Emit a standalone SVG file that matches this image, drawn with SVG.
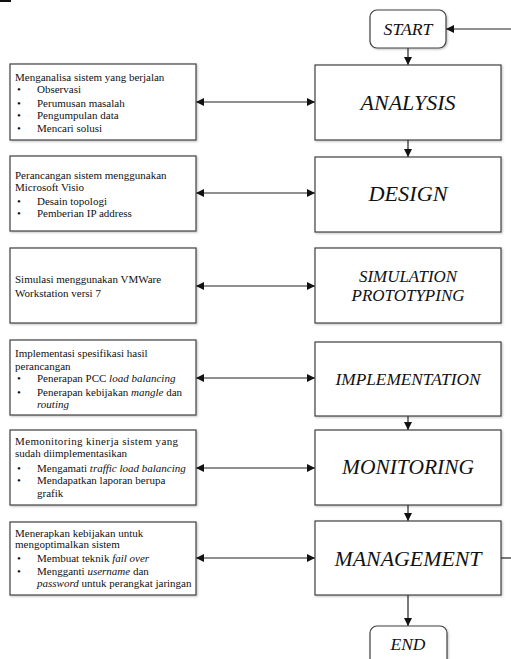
<svg xmlns="http://www.w3.org/2000/svg" width="511" height="659" viewBox="0 0 511 659">
<defs>
<style>
text{font-family:'Liberation Serif','DejaVu Serif',serif}
.box{fill:#fff;stroke:#404040;stroke-width:1.2;filter:url(#sh)}
.t{font-size:11px;fill:#111}
.big{font-style:italic;fill:#111;text-anchor:middle}
.i{font-style:italic}
.ln{stroke:#222;stroke-width:1.2;fill:none}
</style>
<filter id="sh" x="-10%" y="-10%" width="130%" height="130%">
<feDropShadow dx="1" dy="1" stdDeviation="1" flood-color="#000" flood-opacity="0.25"/>
</filter>
<marker id="ah" viewBox="0 0 8 8" refX="8" refY="4" markerWidth="8" markerHeight="8" markerUnits="userSpaceOnUse" orient="auto-start-reverse">
<path d="M0,0 L8,4 L0,8 z" fill="#111"/>
</marker>
</defs>
<rect x="0" y="0" width="511" height="659" fill="#fff"/>
<line x1="0" y1="1" x2="11" y2="1" stroke="#111" stroke-width="2"/>

<g id="connectors">
<line class="ln" x1="511" y1="29" x2="446" y2="29" marker-end="url(#ah)"/>
<line class="ln" x1="408" y1="48" x2="408" y2="65" marker-end="url(#ah)"/>
<line class="ln" x1="408" y1="140" x2="408" y2="157" marker-end="url(#ah)"/>
<line class="ln" x1="408" y1="416" x2="408" y2="430" marker-end="url(#ah)"/>
<line class="ln" x1="408" y1="505" x2="408" y2="521" marker-end="url(#ah)"/>
<line class="ln" x1="408" y1="595" x2="408" y2="626" marker-end="url(#ah)"/>
<line class="ln" x1="501" y1="558" x2="511" y2="558"/>
<line class="ln" x1="196" y1="102" x2="315" y2="102" marker-start="url(#ah)" marker-end="url(#ah)"/>
<line class="ln" x1="196" y1="193" x2="315" y2="193" marker-start="url(#ah)" marker-end="url(#ah)"/>
<line class="ln" x1="196" y1="286" x2="315" y2="286" marker-start="url(#ah)" marker-end="url(#ah)"/>
<line class="ln" x1="196" y1="378" x2="315" y2="378" marker-start="url(#ah)" marker-end="url(#ah)"/>
<line class="ln" x1="196" y1="468" x2="315" y2="468" marker-start="url(#ah)" marker-end="url(#ah)"/>
<line class="ln" x1="196" y1="558" x2="315" y2="558" marker-start="url(#ah)" marker-end="url(#ah)"/>
</g>

<g id="start">
<rect class="box" x="370" y="10" width="76" height="38" rx="7"/>
<text class="big" x="408" y="35" font-size="17" textLength="49" lengthAdjust="spacingAndGlyphs">START</text>
</g>
<g id="analysis">
<rect class="box" x="315" y="65" width="186" height="75"/>
<text class="big" x="408" y="110" font-size="22" textLength="95" lengthAdjust="spacingAndGlyphs">ANALYSIS</text>
</g>
<g id="design">
<rect class="box" x="315" y="157" width="186" height="75"/>
<text class="big" x="408" y="201" font-size="22" textLength="79" lengthAdjust="spacingAndGlyphs">DESIGN</text>
</g>
<g id="simulation">
<rect class="box" x="315" y="248" width="186" height="75"/>
<text class="big" x="408" y="281.5" font-size="16.5" textLength="98" lengthAdjust="spacingAndGlyphs">SIMULATION</text>
<text class="big" x="408" y="301" font-size="16.5" textLength="113" lengthAdjust="spacingAndGlyphs">PROTOTYPING</text>
</g>
<g id="implementation">
<rect class="box" x="315" y="342" width="186" height="74"/>
<text class="big" x="408" y="384.5" font-size="16.5" textLength="145" lengthAdjust="spacingAndGlyphs">IMPLEMENTATION</text>
</g>
<g id="monitoring">
<rect class="box" x="315" y="430" width="186" height="75"/>
<text class="big" x="408" y="474" font-size="21.5" textLength="132" lengthAdjust="spacingAndGlyphs">MONITORING</text>
</g>
<g id="management">
<rect class="box" x="315" y="521" width="186" height="74"/>
<text class="big" x="408" y="565.5" font-size="21.5" textLength="147" lengthAdjust="spacingAndGlyphs">MANAGEMENT</text>
</g>
<g id="end">
<rect class="box" x="370" y="626" width="77" height="45" rx="7"/>
<text class="big" x="408" y="650" font-size="17" textLength="35" lengthAdjust="spacingAndGlyphs">END</text>
</g>

<g id="note-analysis">
<rect class="box" x="10" y="64" width="186" height="76"/>
<text class="t" x="15" y="81">Menganalisa sistem yang berjalan</text>
<text class="t" x="17" y="93">•</text><text class="t" x="37" y="93">Observasi</text>
<text class="t" x="17" y="107">•</text><text class="t" x="37" y="107">Perumusan masalah</text>
<text class="t" x="17" y="119">•</text><text class="t" x="37" y="119">Pengumpulan data</text>
<text class="t" x="17" y="132">•</text><text class="t" x="37" y="132">Mencari solusi</text>
</g>
<g id="note-design">
<rect class="box" x="10" y="156" width="186" height="75"/>
<text class="t" x="15" y="179">Perancangan sistem menggunakan</text>
<text class="t" x="15" y="191">Microsoft Visio</text>
<text class="t" x="17" y="205">•</text><text class="t" x="37" y="205">Desain topologi</text>
<text class="t" x="17" y="217">•</text><text class="t" x="37" y="217">Pemberian IP address</text>
</g>
<g id="note-simulation">
<rect class="box" x="10" y="248" width="186" height="75"/>
<text class="t" x="15" y="283">Simulasi menggunakan VMWare</text>
<text class="t" x="15" y="297">Workstation versi 7</text>
</g>
<g id="note-implementation">
<rect class="box" x="10" y="340" width="186" height="75"/>
<text class="t" x="15" y="357">Implementasi spesifikasi hasil</text>
<text class="t" x="15" y="370">perancangan</text>
<text class="t" x="17" y="382">•</text><text class="t" x="37" y="382">Penerapan PCC <tspan class="i">load balancing</tspan></text>
<text class="t" x="17" y="396">•</text><text class="t" x="37" y="396">Penerapan kebijakan <tspan class="i">mangle</tspan> dan</text>
<text class="t i" x="37" y="408">routing</text>
</g>
<g id="note-monitoring">
<rect class="box" x="10" y="430" width="186" height="75"/>
<text class="t" x="15" y="445" textLength="163" lengthAdjust="spacing">Memonitoring kinerja sistem yang</text>
<text class="t" x="15" y="457">sudah diimplementasikan</text>
<text class="t" x="17" y="472">•</text><text class="t" x="37" y="472">Mengamati <tspan class="i">traffic load balancing</tspan></text>
<text class="t" x="17" y="484">•</text><text class="t" x="37" y="484">Mendapatkan laporan berupa</text>
<text class="t" x="37" y="497">grafik</text>
</g>
<g id="note-management">
<rect class="box" x="10" y="522" width="186" height="73"/>
<text class="t" x="15" y="537">Menerapkan kebijakan untuk</text>
<text class="t" x="15" y="548">mengoptimalkan sistem</text>
<text class="t" x="17" y="562">•</text><text class="t" x="37" y="562">Membuat teknik <tspan class="i">fail over</tspan></text>
<text class="t" x="17" y="575">•</text><text class="t" x="37" y="575">Mengganti <tspan class="i">username</tspan> dan</text>
<text class="t" x="37" y="587"><tspan class="i">password</tspan> untuk perangkat jaringan</text>
</g>
</svg>
